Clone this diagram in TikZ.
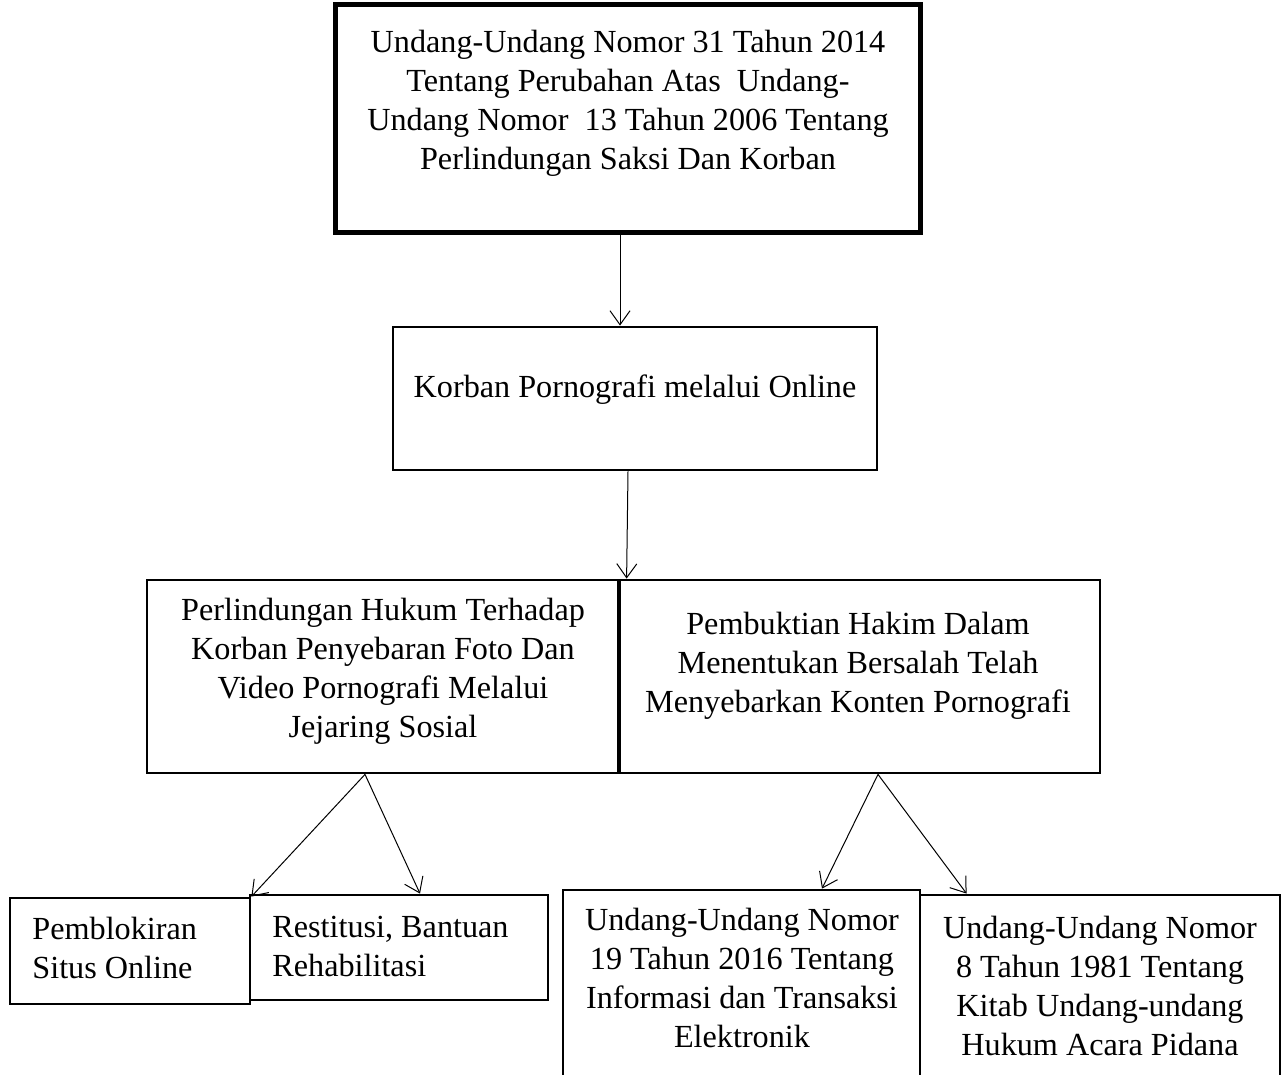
\documentclass[tikz,border=0pt]{standalone}
\usepackage{fontspec}
\setmainfont{Liberation Serif}
\usetikzlibrary{arrows.meta,calc}

\tikzset{
	box/.style={draw, line width=1.4pt, inner sep=0pt},
	txt/.style={inner sep=0pt, align=center, font=\fontsize{16.1}{19.5}\selectfont},
	link/.style={line width=0.5pt, -{Straight Barb[length=7pt,width=10pt]}}
}

\begin{document}
\begin{tikzpicture}[x=0.5pt,y=-0.5pt]

\def\pxu{0.5pt}

\clip (0,0) rectangle (1285,1075);

% BOXES
\node (uu31) [box, line width=2.5pt, minimum width=585*\pxu, minimum height=228*\pxu] at (627.5,119) {};
\node (victim) [box, minimum width=484*\pxu, minimum height=143*\pxu] at (635,398.5) {};
\node (law) [box, minimum width=471*\pxu, minimum height=193*\pxu] at (382.5,676.5) {};
\node (proof) [box, minimum width=480*\pxu, minimum height=193*\pxu] at (860,676.5) {};
\node (block) [box, minimum width=240*\pxu, minimum height=106*\pxu] at (130,951) {};
\node (restit) [box, minimum width=298*\pxu, minimum height=105*\pxu] at (399,947.5) {};
\node (ite) [box, minimum width=357*\pxu, minimum height=200*\pxu] at (741.5,990) {};
\node (kuhap) [box, minimum width=360*\pxu, minimum height=195*\pxu] at (1100,992.5) {};

% TEXTS
\node (uu31t) [txt] at (628,103) {Undang-Undang Nomor 31 Tahun 2014\\Tentang Perubahan Atas\ \ Undang-\\Undang Nomor\ \ 13 Tahun 2006 Tentang\\Perlindungan Saksi Dan Korban};
\node (victimt) [txt] at (635,390) {Korban Pornografi melalui Online};
\node (lawt) [txt] at (383,671) {Perlindungan Hukum Terhadap\\Korban Penyebaran Foto Dan\\Video Pornografi Melalui\\Jejaring Sosial};
\node (prooft) [txt] at (858,666) {Pembuktian Hakim Dalam\\Menentukan Bersalah Telah\\Menyebarkan Konten Pornografi};
\node (blockt) [txt, align=left, anchor=west] at (32,948) {Pemblokiran\\Situs Online};
\node (restitt) [txt, align=left, anchor=west] at (272,946) {Restitusi, Bantuan\\Rehabilitasi};
\node (itet) [txt] at (742,978) {Undang-Undang Nomor\\19 Tahun 2016 Tentang\\Informasi dan Transaksi\\Elektronik};
\node (kuhapt) [txt] at (1100,986) {Undang-Undang Nomor\\8 Tahun 1981 Tentang\\Kitab Undang-undang\\Hukum Acara Pidana};

% ARROWS
\draw [link] ($(uu31.south)+(-7.5,0)$) -- ($(victim.north)+(-15,0)$);
\draw [link] ($(victim.south)+(-7,0)$) -- ($(proof.north west)+(8,0)$);
\draw [link] ($(law.south)+(-17.5,0)$) -- (block.north east);
\draw [link] ($(law.south)+(-17.5,0)$) -- ($(restit.north)+(21,0)$);
\draw [link] ($(proof.south)+(18,0)$) -- ($(ite.north)+(80.5,0)$);
\draw [link] ($(proof.south)+(18,0)$) -- ($(kuhap.north west)+(48,0)$);

\end{tikzpicture}
\end{document}
